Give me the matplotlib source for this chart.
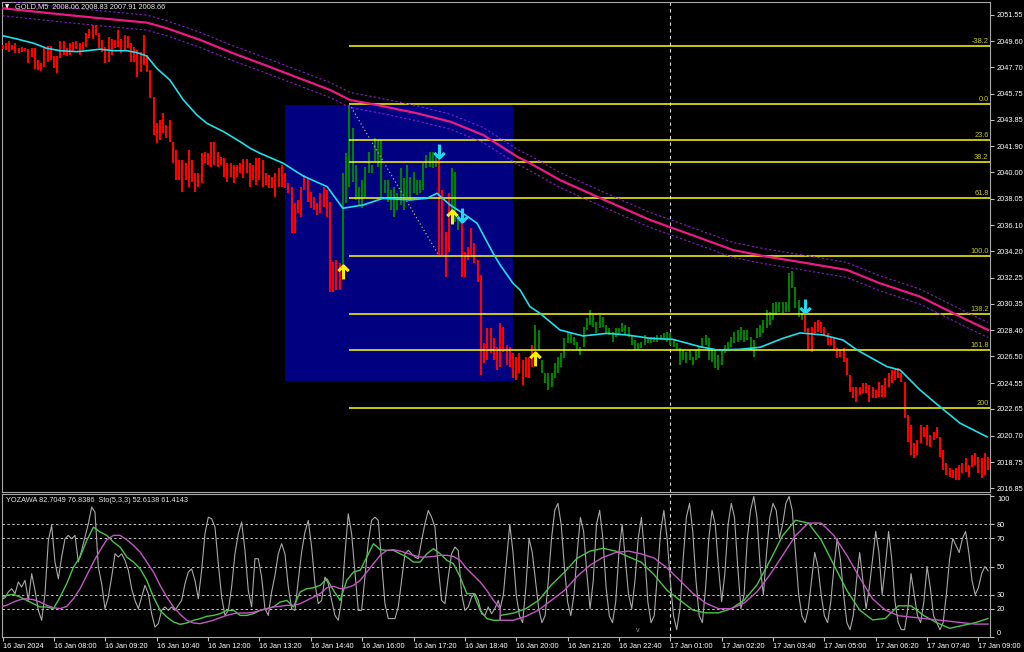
import numpy as np
import matplotlib
matplotlib.use("Agg")
import matplotlib.pyplot as plt
from matplotlib.path import Path
from matplotlib.patches import Rectangle
from matplotlib.transforms import blended_transform_factory

plt.rcParams['font.family'] = ['Liberation Sans', 'DejaVu Sans']

# ---------------- data ----------------
bar_high = [
    2049.33, 2049.50, 2049.65, 2049.33, 2049.50, 2049.14, 2049.21, 2049.14, 2049.01, 2049.14,
    2049.09, 2048.23, 2047.99, 2049.09, 2049.26, 2049.26, 2048.52, 2048.52, 2049.65, 2049.65,
    2049.09, 2049.45, 2049.58, 2049.65, 2049.50, 2049.58, 2050.24, 2050.48, 2050.80, 2050.80,
    2050.19, 2049.70, 2049.21, 2049.94, 2049.75, 2049.70, 2050.43, 2049.75, 2050.06, 2049.99,
    2049.45, 2049.21, 2048.96, 2048.84, 2050.06, 2048.60, 2047.50, 2045.54, 2043.59, 2043.83,
    2044.32, 2043.47, 2043.83, 2042.24, 2041.63, 2040.90, 2040.90, 2040.66, 2041.63, 2040.90,
    2039.92, 2039.92, 2041.39, 2041.51, 2041.39, 2042.24, 2042.24, 2041.51, 2041.14, 2041.02,
    2040.66, 2040.66, 2040.53, 2040.53, 2040.66, 2040.95, 2040.95, 2040.66, 2040.53, 2041.02,
    2041.02, 2040.90, 2039.92, 2039.80, 2039.68, 2039.92, 2040.29, 2040.53, 2039.92, 2039.19,
    2038.94, 2037.72, 2037.96, 2038.94, 2039.80, 2039.55, 2038.58, 2038.21, 2037.72, 2038.45,
    2038.94, 2038.70, 2037.84, 2033.44, 2033.57, 2033.32, 2039.92, 2041.39, 2044.93, 2043.22,
    2040.53, 2038.94, 2039.43, 2040.41, 2041.51, 2040.53, 2042.49, 2042.36, 2042.36, 2039.43,
    2039.43, 2038.70, 2038.94, 2038.45, 2040.29, 2039.55, 2040.53, 2039.68, 2040.04, 2039.43,
    2039.43, 2040.65, 2041.26, 2041.51, 2041.51, 2041.26, 2041.05, 2038.70, 2035.64, 2038.45,
    2040.29, 2040.04, 2036.74, 2036.38, 2034.18, 2034.54, 2035.89, 2034.79, 2033.57, 2032.47,
    2027.46, 2028.56, 2028.56, 2027.82, 2027.21, 2028.92, 2028.68, 2027.33, 2027.21, 2026.72,
    2026.48, 2026.72, 2026.24, 2026.48, 2026.48, 2027.34, 2028.80, 2028.43, 2026.24, 2025.26,
    2025.26, 2025.26, 2025.99, 2026.48, 2026.72, 2027.82, 2028.31, 2028.19, 2027.95, 2027.58,
    2027.21, 2028.68, 2029.29, 2029.90, 2029.53, 2029.05, 2029.53, 2029.41, 2028.80, 2028.56,
    2028.31, 2028.56, 2028.56, 2028.92, 2028.80, 2028.68, 2028.07, 2027.70, 2027.46, 2027.58,
    2028.07, 2027.82, 2027.95, 2027.95, 2028.07, 2028.07, 2028.19, 2028.31, 2028.19, 2027.70,
    2027.46, 2027.09, 2026.97, 2026.85, 2026.97, 2026.48, 2026.97, 2027.21, 2027.82, 2028.07,
    2027.82, 2027.09, 2026.97, 2026.60, 2026.97, 2027.34, 2027.58, 2027.95, 2028.31, 2028.43,
    2028.68, 2028.43, 2028.43, 2027.95, 2027.70, 2028.56, 2028.80, 2029.17, 2029.90, 2029.78,
    2030.39, 2030.51, 2030.51, 2030.51, 2030.51, 2032.59, 2032.78, 2031.61, 2030.63, 2029.66,
    2029.53, 2028.56, 2028.68, 2029.05, 2029.17, 2029.05, 2028.68, 2028.19, 2027.95, 2027.82,
    2027.09, 2026.97, 2027.09, 2026.36, 2025.14, 2024.28, 2024.28, 2024.28, 2024.53, 2024.53,
    2024.40, 2024.28, 2024.04, 2024.65, 2024.40, 2024.89, 2025.26, 2025.50, 2025.62, 2025.62,
    2025.26, 2024.65, 2022.20, 2021.47, 2020.13, 2020.37, 2021.47, 2021.35, 2021.47, 2020.74,
    2020.98, 2021.35, 2020.61, 2019.64, 2018.66, 2018.29, 2018.17, 2018.29, 2018.54, 2018.66,
    2019.03, 2018.54, 2019.27, 2019.39, 2019.15, 2019.03, 2019.39, 2019.15,
]
bar_low = [
    2049.01, 2048.96, 2048.84, 2048.96, 2048.72, 2048.77, 2048.84, 2048.91, 2047.99, 2048.48,
    2047.55, 2047.50, 2047.45, 2047.74, 2048.11, 2048.23, 2047.62, 2047.30, 2048.35, 2048.60,
    2048.52, 2048.60, 2048.84, 2049.01, 2048.60, 2048.96, 2049.21, 2049.82, 2049.75, 2050.06,
    2049.09, 2048.84, 2047.99, 2048.11, 2048.60, 2049.09, 2049.21, 2048.72, 2048.96, 2049.09,
    2048.11, 2048.11, 2047.01, 2047.38, 2047.86, 2047.38, 2045.42, 2042.73, 2042.12, 2042.37,
    2042.86, 2042.49, 2042.24, 2040.66, 2039.43, 2039.43, 2038.58, 2039.43, 2038.95, 2039.31,
    2038.58, 2038.95, 2039.19, 2040.66, 2040.53, 2040.41, 2040.53, 2040.41, 2040.53, 2039.68,
    2039.31, 2039.68, 2039.19, 2039.68, 2039.92, 2039.56, 2039.92, 2038.95, 2039.43, 2039.07,
    2039.43, 2038.94, 2039.07, 2038.82, 2038.82, 2038.21, 2038.94, 2038.94, 2038.82, 2038.45,
    2035.52, 2035.52, 2036.99, 2036.74, 2038.70, 2037.84, 2037.35, 2037.23, 2036.87, 2036.99,
    2037.48, 2036.74, 2031.25, 2031.25, 2031.37, 2031.37, 2033.20, 2037.72, 2038.94, 2039.31,
    2037.96, 2037.60, 2037.35, 2038.21, 2039.92, 2039.92, 2040.78, 2040.41, 2038.21, 2038.45,
    2037.84, 2037.23, 2036.74, 2037.23, 2037.60, 2037.23, 2038.21, 2037.96, 2038.45, 2038.33,
    2038.45, 2038.70, 2040.29, 2040.41, 2040.29, 2040.41, 2033.93, 2033.93, 2032.35, 2034.18,
    2036.87, 2036.38, 2035.77, 2032.35, 2032.35, 2033.57, 2033.81, 2033.32, 2031.98, 2025.14,
    2025.99, 2026.24, 2026.72, 2026.24, 2025.50, 2025.75, 2026.85, 2025.87, 2025.75, 2024.89,
    2024.77, 2025.26, 2024.40, 2025.01, 2024.89, 2025.75, 2026.97, 2026.97, 2025.26, 2024.53,
    2024.04, 2024.28, 2024.89, 2025.26, 2025.75, 2026.36, 2027.46, 2027.46, 2027.34, 2026.97,
    2026.60, 2027.21, 2028.43, 2028.80, 2028.68, 2028.19, 2028.56, 2028.68, 2028.19, 2028.07,
    2027.58, 2027.95, 2028.07, 2028.31, 2028.07, 2027.95, 2027.34, 2026.97, 2026.97, 2027.09,
    2027.34, 2027.46, 2027.46, 2027.58, 2027.58, 2027.70, 2027.70, 2027.58, 2027.34, 2027.21,
    2026.97, 2025.87, 2026.24, 2025.99, 2026.24, 2025.87, 2026.24, 2026.36, 2027.09, 2027.34,
    2026.24, 2026.11, 2025.62, 2025.50, 2025.87, 2026.72, 2026.97, 2027.21, 2027.46, 2027.58,
    2027.70, 2027.58, 2027.70, 2026.97, 2026.48, 2027.82, 2027.95, 2028.19, 2028.56, 2028.80,
    2029.17, 2029.53, 2029.78, 2029.66, 2029.78, 2029.78, 2031.49, 2030.02, 2029.41, 2029.17,
    2028.31, 2026.97, 2026.85, 2028.19, 2028.31, 2028.19, 2028.07, 2027.34, 2027.34, 2026.97,
    2026.36, 2026.48, 2026.11, 2025.14, 2023.91, 2023.43, 2023.18, 2023.67, 2023.79, 2023.79,
    2023.18, 2023.43, 2023.43, 2023.55, 2023.55, 2023.55, 2024.28, 2024.53, 2024.77, 2024.89,
    2024.65, 2021.96, 2020.25, 2019.27, 2019.03, 2019.27, 2020.13, 2020.61, 2020.00, 2019.88,
    2020.37, 2020.49, 2019.15, 2018.17, 2017.80, 2017.68, 2017.56, 2017.44, 2017.44, 2017.93,
    2018.05, 2017.68, 2018.42, 2018.54, 2017.93, 2017.56, 2017.80, 2018.17,
]
# trend state runs (number of bars, direction)
trend_runs = [(106, 'down'), (30, 'up'), (4, 'down'), (3, 'up'),
              (23, 'down'), (84, 'up'), (58, 'down')]

# fast moving average (bar, price)
ma_fast_bar = [0, 4.4, 9.6, 13.7, 17.9, 23.1, 26.2, 30.3, 34.4, 38.7, 41.8, 44.9, 48, 52.1,
               56.3, 60.5, 63.6, 68.8, 74, 77.1, 80.2, 87.4, 93.6, 101.1, 106, 112.3, 118.5,
               126.9, 132.2, 135.3, 139.4, 143.4, 147.8, 152.8, 155, 159, 161.2, 164.3, 167.4,
               173.6, 180.8, 188.3, 194.5, 201.7, 208.8, 217.3, 222.6, 229.7, 236, 243.1,
               248.4, 255.6, 261.8, 266.2, 275.5, 279.6, 285.8, 292, 298.3, 306.7]
ma_fast = [2050.01, 2049.77, 2049.46, 2049.09, 2048.91, 2048.84, 2048.91, 2049.02, 2048.91,
           2048.91, 2048.77, 2048.52, 2047.62, 2046.76, 2045.30, 2044.20, 2043.59, 2042.98,
           2042.24, 2041.76, 2041.39, 2040.66, 2039.73, 2038.94, 2037.36, 2037.60, 2038.09,
           2037.97, 2038.09, 2038.46, 2037.60, 2036.99, 2036.26, 2034.06, 2033.20, 2031.86,
           2031.37, 2030.14, 2029.66, 2028.44, 2028.00, 2028.19, 2028.07, 2027.83, 2027.75,
           2027.21, 2026.97, 2027.02, 2027.17, 2027.83, 2028.22, 2028.07, 2027.70, 2026.97,
           2025.75, 2025.50, 2024.04, 2022.81, 2021.60, 2020.60]
# slow moving average (bar, price) and its envelope deviation
ma_slow_bar = [0, 20, 30.3, 44.9, 51.1, 61.5, 71.8, 80.2, 102, 108.2, 116.6, 129.1, 139.4,
               149.7, 160.3, 164.3, 173.6, 186.1, 201.7, 217.3, 227.5, 238.1, 248.4, 263,
               273.3, 279.6, 285.8, 294.2, 300.4, 307]
ma_slow = [2052.02, 2051.53, 2051.29, 2050.97, 2050.56, 2049.70, 2048.72, 2047.99, 2046.03,
           2045.30, 2044.93, 2044.32, 2043.71, 2042.73, 2041.14, 2040.66, 2039.43, 2038.11,
           2036.50, 2035.18, 2034.30, 2033.81, 2033.42, 2032.84, 2031.86, 2031.37, 2030.88,
           2029.90, 2029.17, 2028.44]
envelope_dev = 0.55

# Fibonacci retracement
fib_price_0 = 2045.00
fib_price_100 = 2033.86
fib_bar_0 = 108
fib_bar_100 = 136
fib_levels = [-38.2, 0.0, 23.6, 38.2, 61.8, 100.0, 138.2, 161.8, 200.0]
fib_labels = ['-38.2', '0.0', '23.6', '38.2', '61.8', '100.0', '138.2', '161.8', '200']

# highlighted box
box_bars = (88, 159)
box_prices = (2024.70, 2044.93)

# signal arrows (bar, price of arrow tip)
buy_bars = [106, 140, 166]
buy_prices = [2033.20, 2037.23, 2026.82]
sell_bars = [136, 143, 250]
sell_prices = [2041.05, 2036.35, 2029.68]

separator_bar = 208

price_ticks = [2051.55, 2049.60, 2047.70, 2045.75, 2043.85, 2041.90, 2040.00, 2038.05,
               2036.10, 2034.20, 2032.25, 2030.35, 2028.40, 2026.50, 2024.55, 2022.65,
               2020.70, 2018.75, 2016.85]
time_tick_bars = list(range(0, 305, 16))
time_labels = ['16 Jan 2024', '16 Jan 08:00', '16 Jan 09:20', '16 Jan 10:40', '16 Jan 12:00',
               '16 Jan 13:20', '16 Jan 14:40', '16 Jan 16:00', '16 Jan 17:20', '16 Jan 18:40',
               '16 Jan 20:00', '16 Jan 21:20', '16 Jan 22:40', '17 Jan 01:00', '17 Jan 02:20',
               '17 Jan 03:40', '17 Jan 05:00', '17 Jan 06:20', '17 Jan 07:40', '17 Jan 09:00']

osc_levels = [20, 30, 50, 70, 80]
osc_ticks = [0, 20, 30, 50, 70, 80, 100]

# fast oscillator (gray), first part sampled ~1 bar apart over bars -0.3..154.4
osc_fast_a = [26.4, 27.8, 31.9, 34.2, 30.7, 39.0, 35.4, 40.2, 25.9, 44.9,
              33.0, 18.8, 11.7, 30.7, 68.6, 79.3, 53.2, 41.3, 56.8, 69.8,
              72.2, 69.8, 72.2, 53.2, 61.5, 71.0, 80.5, 92.4, 88.8, 49.6,
              37.8, 20.0, 28.3, 42.5, 59.1, 56.8, 59.1, 54.4, 47.3, 34.2,
              25.9, 20.0, 28.3, 36.6, 30.7, 16.4, 6.9, 9.3, 18.8, 21.2,
              18.8, 21.2, 18.8, 22.4, 25.9, 37.8, 46.1, 48.4, 40.2, 27.1,
              47.3, 73.4, 85.2, 84.1, 78.1, 52.0, 28.3, 15.2, 18.8, 35.4,
              59.1, 73.4, 81.7, 61.5, 33.0, 21.2, 55.6, 55.6, 42.5, 20.0,
              15.2, 31.9, 43.7, 59.1, 66.3, 59.1, 35.4, 20.0, 18.8, 40.2,
              60.3, 74.6, 82.9, 63.9, 37.8, 23.5, 25.9, 42.5, 37.8, 25.9,
              15.2, 11.7, 25.9, 59.1, 87.6, 73.4, 46.1, 18.8, 18.8, 42.5,
              67.4, 82.9, 85.2, 82.9, 53.2, 23.5, 12.9, 12.9, 12.9, 21.2,
              40.2, 59.1, 61.5, 59.1, 56.8, 55.6, 68.6, 80.5, 90.0, 85.2,
              78.1, 49.6, 25.9, 23.5, 42.5, 59.1, 63.9, 61.5, 30.7, 18.8,
              21.2, 28.3, 30.7, 25.9, 16.4, 15.2, 21.2, 16.4, 20.0, 25.9]
# fast oscillator, second part, one value per bar from bar 155 to 307
osc_fast_b = [20, 30, 55, 80, 60, 30, 15, 10, 35, 70, 60, 40,
              20, 10, 15, 40, 70, 90, 95, 80, 50, 25, 15, 30,
              60, 85, 75, 45, 20, 40, 80, 90, 70, 35, 15, 10,
              25, 60, 80, 55, 30, 20, 40, 70, 85, 60, 25, 10,
              15, 45, 75, 90, 70, 40, 15, 5, 20, 55, 85, 95,
              75, 40, 15, 10, 35, 70, 90, 80, 50, 25, 45, 80,
              95, 85, 50, 20, 30, 70, 90, 100, 85, 50, 30, 60,
              85, 95, 90, 70, 80, 95, 100, 90, 60, 30, 15, 10,
              20, 40, 60, 50, 30, 15, 10, 25, 50, 70, 55, 30,
              10, 5, 15, 40, 60, 40, 20, 35, 55, 75, 60, 30,
              50, 75, 55, 25, 10, 5, 5, 20, 45, 30, 15, 10,
              25, 50, 35, 15, 10, 5, 10, 30, 55, 70, 65, 60,
              70, 75, 60, 40, 30, 35, 45, 50, 47]
# stochastic main (green) and signal (violet), first part ~2 bars apart over bars -0.8..155
sto_main_a = [27.1, 29.5, 30.2, 28.3, 25.9, 23.5, 21.2, 21.2, 20.0, 28.3,
              37.8, 49.6, 56.8, 68.6, 78.1, 74.6, 72.2, 67.4, 63.9, 56.8,
              53.2, 48.4, 40.2, 28.3, 18.8, 14.1, 10.5, 8.8, 9.8, 11.7,
              12.9, 14.5, 15.2, 16.4, 18.8, 18.8, 15.2, 15.2, 16.4, 18.8,
              20.0, 21.2, 24.7, 25.9, 21.2, 31.9, 34.2, 34.9, 36.6, 41.3,
              33.0, 25.9, 40.2, 46.1, 47.3, 56.8, 66.3, 62.0, 61.5, 61.5,
              59.1, 56.8, 53.2, 53.2, 59.1, 62.7, 59.1, 54.4, 52.0, 42.5,
              30.7, 30.7, 18.8, 12.9, 11.7, 11.7]
sto_signal_a = [21.2, 22.4, 24.7, 26.4, 27.1, 26.4, 24.7, 22.4, 20.7, 20.0,
                21.6, 27.1, 34.2, 43.7, 53.2, 61.5, 69.1, 72.2, 72.2, 69.1,
                65.1, 60.3, 53.2, 46.1, 36.6, 28.3, 21.2, 16.0, 11.7, 9.8,
                9.3, 10.5, 11.7, 13.6, 15.2, 16.4, 16.9, 16.9, 17.4, 18.8,
                20.0, 21.2, 21.7, 22.4, 22.4, 23.5, 25.9, 28.3, 30.7, 34.9,
                35.9, 34.2, 34.9, 36.6, 40.2, 46.1, 52.0, 58.0, 61.5, 62.0,
                61.0, 59.6, 58.0, 56.8, 56.8, 57.2, 58.0, 58.0, 57.2, 54.4,
                48.4, 43.7, 39.0, 33.0, 25.9, 20.0]
# second part, every 4 bars from bar 155 to 307
sto_main_b = [15.2, 16.7, 20, 26, 37, 46, 56, 61, 63, 61, 57, 53, 44, 33, 26, 19, 17, 17,
              20, 26, 37, 54, 72, 83, 81, 69, 51, 33, 19, 12, 13, 22, 22, 15, 10, 6, 8, 10, 13]
sto_signal_b = [11.7, 11.7, 14.5, 19, 26, 33, 43, 51, 56.5, 60, 61, 59, 56, 49, 40, 31, 24,
                20, 20, 24, 32, 44, 58, 72, 81, 81, 72, 58, 42, 27, 19, 15, 14, 13, 12, 11,
                10, 9, 9]

# ---------------- drawing ----------------
W, H = 1024, 652
fig = plt.figure(figsize=(W / 100, H / 100), dpi=100, facecolor='black')


def add_ax(l, t, r, b):
    a = fig.add_axes([l / W, 1 - b / H, (r - l) / W, (b - t) / H])
    a.set_facecolor('black')
    for s in a.spines.values():
        s.set_color('#a8a8a8')
        s.set_linewidth(0.8)
    return a


ax = add_ax(2, 2, 990, 492)
axo = add_ax(2, 494, 990, 637)

n = len(bar_high)
xb = np.arange(n)
xlim = (-0.2, 307.6)
ax.set_xlim(xlim)
axo.set_xlim(xlim)
ax.set_ylim(2016.56, 2052.48)
axo.set_ylim(-0.2, 101.7)

dir_color = {'down': '#ff0000', 'up': '#008000'}
bar_colors = []
for cnt, d in trend_runs:
    bar_colors += [dir_color[d]] * cnt

# box
ax.add_patch(Rectangle((box_bars[0], box_prices[0]), box_bars[1] - box_bars[0],
                       box_prices[1] - box_prices[0], facecolor='#000080',
                       edgecolor='none', zorder=1))

# bars
ax.vlines(xb, bar_low, bar_high, colors=bar_colors, linewidth=1.5, zorder=3)

# fib
rng = fib_price_0 - fib_price_100
tr = blended_transform_factory(ax.transAxes, ax.transData)
for lev, lab in zip(fib_levels, fib_labels):
    p = fib_price_0 - lev / 100.0 * rng
    ax.hlines(p, fib_bar_0, xlim[1], color='#ffff00', linewidth=1.1, zorder=4)
    ax.text(0.9985, p + 0.05, lab, transform=tr, ha='right', va='bottom',
            color='#c8c820', fontsize=5.3, zorder=6)
ax.plot([fib_bar_0, fib_bar_100], [fib_price_0, fib_price_100], color='#b4b46e',
        linestyle=(0, (1, 2)), linewidth=0.9, zorder=4)

# moving averages
ma_slow_arr = np.array(ma_slow)
ax.plot(ma_slow_bar, ma_slow_arr + envelope_dev, color='#8a1cd0', linestyle=(0, (2, 2)),
        linewidth=0.8, zorder=4)
ax.plot(ma_slow_bar, ma_slow_arr - envelope_dev, color='#8a1cd0', linestyle=(0, (2, 2)),
        linewidth=0.8, zorder=4)
ax.plot(ma_slow_bar, ma_slow_arr, color='#ec1a85', linewidth=1.6, zorder=5)
ax.plot(ma_fast_bar, ma_fast, color='#1ee0ea', linewidth=1.2, zorder=5)

# separator
for a in (ax, axo):
    a.axvline(separator_bar, color='#d8d8d8', linestyle=(0, (3, 3)), linewidth=0.8, zorder=2)

# arrows
up_path = Path([(0, -1), (0, 0.9), (-0.75, 0.2), (0, 0.95), (0.75, 0.2)],
               [Path.MOVETO, Path.LINETO, Path.MOVETO, Path.LINETO, Path.LINETO])
down_path = Path([(0, 1), (0, -0.9), (-0.75, -0.2), (0, -0.95), (0.75, -0.2)],
                 [Path.MOVETO, Path.LINETO, Path.MOVETO, Path.LINETO, Path.LINETO])
arrow_half = 0.48
ax.plot(buy_bars, np.array(buy_prices) - arrow_half, linestyle='none', marker=up_path,
        markersize=10, markeredgewidth=2.2, markeredgecolor='#ffee00',
        markerfacecolor='none', zorder=7)
ax.plot(sell_bars, np.array(sell_prices) + arrow_half, linestyle='none', marker=down_path,
        markersize=10, markeredgewidth=2.2, markeredgecolor='#22d8f0',
        markerfacecolor='none', zorder=7)

# price axis
ax.yaxis.tick_right()
ax.set_yticks(price_ticks)
ax.set_yticklabels([f"{p:.2f}" for p in price_ticks])
ax.tick_params(axis='y', colors='#c0c0c0', labelcolor='white', length=3, width=0.8,
               pad=2, labelsize=5.3, direction='out')
ax.tick_params(axis='x', bottom=False, labelbottom=False)

# oscillator
for lv in osc_levels:
    axo.axhline(lv, color='#c4c4c4', linestyle=(0, (2.5, 2.5)), linewidth=0.7, zorder=1)
xa_fast = np.linspace(-0.3, 154.4, len(osc_fast_a))
xb_fast = np.arange(155, 155 + len(osc_fast_b))
axo.plot(np.concatenate([xa_fast, xb_fast]), osc_fast_a + osc_fast_b,
         color='#a8a8a8', linewidth=0.8, zorder=3)
xa_sto = np.linspace(-0.8, 155.0, len(sto_main_a))
xb_sto = np.linspace(159, 307, len(sto_main_b) - 1)
xb_sto = np.concatenate([[155], xb_sto])[:len(sto_main_b)]
xb_sto = np.linspace(155, 307, len(sto_main_b))
axo.plot(np.concatenate([xa_sto, xb_sto]), sto_main_a + sto_main_b,
         color='#4cc44c', linewidth=1.0, zorder=4)
axo.plot(np.concatenate([xa_sto, xb_sto]), sto_signal_a + sto_signal_b,
         color='#c456c4', linewidth=1.0, zorder=4)

axo.yaxis.tick_right()
axo.set_yticks(osc_ticks)
axo.set_yticklabels([str(t) for t in osc_ticks])
axo.tick_params(axis='y', colors='#c0c0c0', labelcolor='white', length=3, width=0.8,
                pad=2, labelsize=5.3, direction='out')
for lbl, t in zip(axo.get_yticklabels(), osc_ticks):
    if t == 100:
        lbl.set_va('top')
    elif t == 0:
        lbl.set_va('bottom')

axo.set_xticks(time_tick_bars)
axo.set_xticklabels(time_labels)
axo.tick_params(axis='x', colors='#c0c0c0', labelcolor='white', length=3, width=0.8,
                pad=1.5, labelsize=5.3, direction='out')
for lbl in axo.get_xticklabels():
    lbl.set_ha('left')

# header texts
def ftext(x, y, s, **kw):
    fig.text(x / W, 1 - y / H, s, va='center', **kw)

ftext(5, 7, '\u25bc', color='white', fontsize=4, family=['DejaVu Sans'])
ftext(15, 7, 'GOLD,M5  2008.06 2008.83 2007.91 2008.66', color='#e6e6e6', fontsize=5.3)
ftext(6, 501, 'YOZAWA 82.7049 76.8386  Sto(5,3,3) 52.6138 61.4143', color='#e6e6e6',
      fontsize=5.3)
ftext(638, 631, 'v', color='#9a9a9a', fontsize=5, ha='center')

fig.savefig('out.png', dpi=100, facecolor='black')
